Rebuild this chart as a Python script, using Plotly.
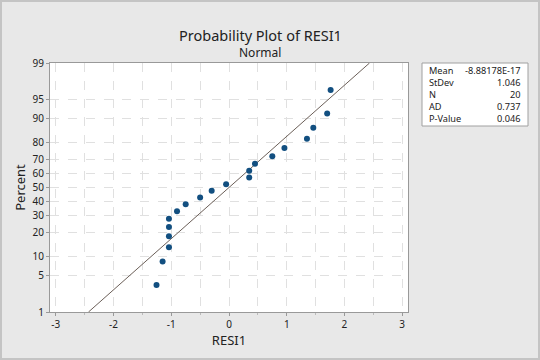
import plotly.graph_objects as go
from statistics import NormalDist

nd = NormalDist()

# Data
resi = [-1.255, -1.15, -1.04, -1.04, -1.04, -1.04, -0.90, -0.75, -0.50, -0.30,
        -0.05, 0.35, 0.35, 0.45, 0.75, 0.96, 1.35, 1.46, 1.70, 1.76]
percent = [3.43, 8.33, 13.24, 18.14, 23.04, 27.94, 32.84, 37.75, 42.65, 47.55,
           52.45, 57.35, 62.25, 67.16, 72.06, 76.96, 81.86, 86.76, 91.67, 96.57]
fit_mean = 0.0
fit_sd = 1.046
y_ticks = [1, 5, 10, 20, 30, 40, 50, 60, 70, 80, 90, 95, 99]
x_ticks = [-3, -2, -1, 0, 1, 2, 3]
stat_names = ["Mean", "StDev", "N", "AD", "P-Value"]
stat_values = ["-8.88178E-17", "1.046", "20", "0.737", "0.046"]

z_pts = [nd.inv_cdf(p / 100) for p in percent]
z_lo = nd.inv_cdf(0.01)
z_hi = nd.inv_cdf(0.99)
line_z = [z_lo, z_hi]
line_x = [fit_mean + fit_sd * z for z in line_z]

font = "Noto Sans, Open Sans, sans-serif"
grid_col = "#e0e0e0"

L, R, T, B = 50, 408, 63, 312
W, H = 540, 360
PW, PH = R - L, B - T


def px(x):
    return (x - L) / PW


def py(y):
    return (B - y) / PH


fig = go.Figure()
fig.add_trace(go.Scatter(x=line_x, y=line_z, mode="lines",
                         line=dict(color="#6b5f58", width=1), hoverinfo="skip"))
fig.add_trace(go.Scatter(x=resi, y=z_pts, mode="markers",
                         marker=dict(color="#124f80", size=6)))

anns = [
    dict(text="Probability Plot of RESI1", x=px(260), y=py(23),
         xref="paper", yref="paper", showarrow=False, font=dict(size=14.5, color="#222")),
    dict(text="Normal", x=px(260), y=py(42),
         xref="paper", yref="paper", showarrow=False, font=dict(size=12, color="#222")),
    dict(text="<br>".join(stat_names), x=px(427), y=py(62), xref="paper", yref="paper",
         xanchor="left", yanchor="top", align="left", showarrow=False,
         font=dict(size=9.2, color="#222")),
    dict(text="<br>".join(stat_values), x=px(523), y=py(62), xref="paper", yref="paper",
         xanchor="right", yanchor="top", align="right", showarrow=False,
         font=dict(size=9.2, color="#222")),
]

fig.update_layout(
    width=W, height=H,
    margin=dict(l=L, r=W - R, t=T, b=H - B, autoexpand=False),
    paper_bgcolor="#e8e8e8", plot_bgcolor="white",
    showlegend=False,
    font=dict(family=font, size=10, color="#222"),
    annotations=anns,
)

fig.add_shape(type="rect", xref="paper", yref="paper",
              x0=px(422), x1=px(528), y0=py(126), y1=py(63),
              line=dict(color="#a0a0a0", width=1), fillcolor="white", layer="below")
fig.add_shape(type="rect", xref="paper", yref="paper",
              x0=px(1), x1=px(539), y0=py(359), y1=py(1),
              line=dict(color="#c4c4c4", width=2), fillcolor="rgba(0,0,0,0)")

fig.update_xaxes(range=[-3.1, 3.1], tickvals=x_ticks, ticktext=[str(v) for v in x_ticks],
                 ticks="outside", ticklen=3, tickcolor="#999", automargin=False,
                 showline=True, linecolor="#999", mirror=True,
                 showgrid=True, gridcolor=grid_col, griddash="dash", zeroline=False,
                 minor=dict(dtick=0.5, tick0=0, ticks="outside", ticklen=2, tickcolor="#bbb",
                            showgrid=True, gridcolor=grid_col, griddash="dash"),
                 title=dict(text="RESI1", font=dict(size=13, color="#222"), standoff=0))
fig.update_yaxes(range=[z_lo, z_hi], tickvals=[nd.inv_cdf(p / 100) for p in y_ticks],
                 ticktext=[str(p) for p in y_ticks], automargin=False,
                 ticks="outside", ticklen=3, tickcolor="#999",
                 showline=True, linecolor="#999", mirror=True,
                 showgrid=True, gridcolor=grid_col, griddash="dash", zeroline=False,
                 title=dict(text="Percent", font=dict(size=13, color="#222"), standoff=3))

fig.write_html("out.html", config={"displayModeBar": False},
               post_script="document.body.style.margin='0';document.body.style.overflow='hidden';")
